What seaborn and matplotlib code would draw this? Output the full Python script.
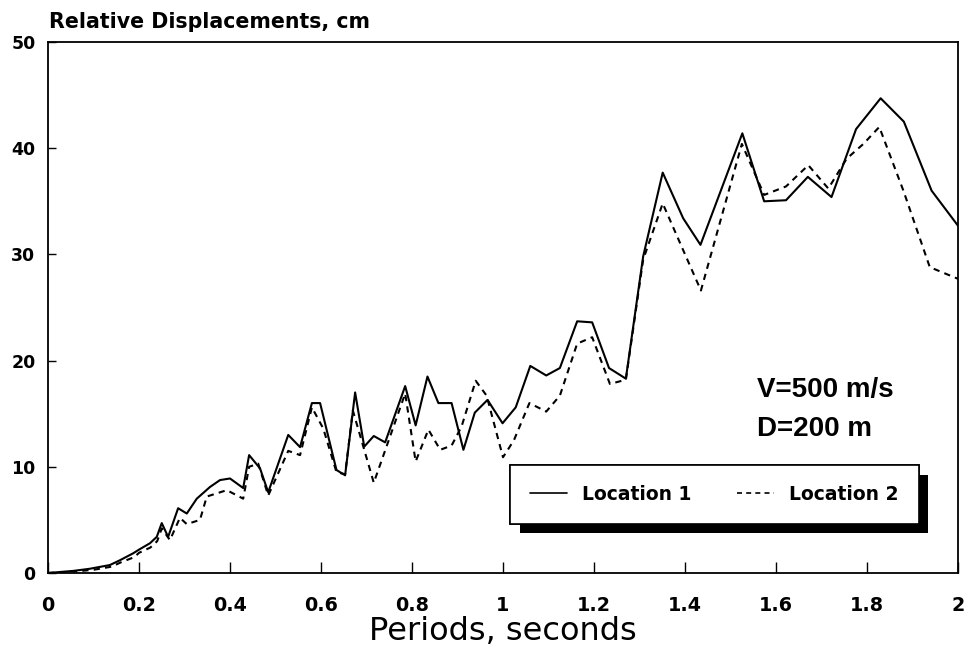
import matplotlib
matplotlib.use("Agg")
import matplotlib.pyplot as plt
import matplotlib.patheffects as pe
import seaborn as sns
import pandas as pd

# Data
loc1_x = [0, 0.056, 0.092, 0.136, 0.158, 0.187, 0.2, 0.224, 0.239, 0.25,
          0.264, 0.286, 0.305, 0.327, 0.356, 0.378, 0.4, 0.429, 0.442, 0.466,
          0.484, 0.528, 0.554, 0.58, 0.598, 0.634, 0.653, 0.675, 0.695, 0.716,
          0.741, 0.785, 0.808, 0.834, 0.858, 0.887, 0.913, 0.938, 0.966, 0.999,
          1.028, 1.06, 1.095, 1.125, 1.163, 1.196, 1.233, 1.27, 1.308, 1.351,
          1.396, 1.434, 1.526, 1.574, 1.622, 1.67, 1.722, 1.776, 1.83, 1.881,
          1.942, 2.0]
loc1_y = [0, 0.2, 0.4, 0.75, 1.2, 1.85, 2.2, 2.8, 3.4, 4.7,
          3.4, 6.1, 5.6, 7.0, 8.1, 8.75, 8.9, 8.0, 11.1, 9.85,
          7.6, 13.0, 11.85, 16.0, 16.0, 9.7, 9.2, 17.0, 11.9, 12.9,
          12.3, 17.6, 13.9, 18.5, 16.0, 16.0, 11.6, 15.1, 16.3, 14.1,
          15.6, 19.5, 18.6, 19.3, 23.7, 23.6, 19.3, 18.3, 29.8, 37.7,
          33.4, 30.9, 41.4, 35.0, 35.1, 37.3, 35.4, 41.8, 44.7, 42.5,
          36.0, 32.7]

loc2_x = [0, 0.06, 0.1, 0.14, 0.16, 0.19, 0.2, 0.225, 0.24, 0.25,
          0.268, 0.29, 0.305, 0.334, 0.349, 0.393, 0.429, 0.442, 0.462, 0.484,
          0.528, 0.554, 0.58, 0.605, 0.634, 0.653, 0.67, 0.716, 0.785, 0.808,
          0.836, 0.862, 0.887, 0.909, 0.94, 0.964, 1.0, 1.024, 1.058, 1.095,
          1.125, 1.163, 1.196, 1.235, 1.27, 1.308, 1.351, 1.396, 1.435, 1.525,
          1.574, 1.622, 1.671, 1.715, 1.755, 1.792, 1.827, 1.88, 1.938, 2.0]
loc2_y = [0, 0.15, 0.3, 0.6, 1.0, 1.5, 1.9, 2.4, 3.0, 4.2,
          3.1, 5.2, 4.6, 5.0, 7.2, 7.8, 7.0, 10.0, 10.3, 7.3,
          11.5, 11.1, 15.6, 13.6, 9.5, 9.3, 15.3, 8.5, 16.9, 10.5,
          13.5, 11.6, 12.0, 13.8, 18.1, 16.7, 10.9, 12.5, 16.0, 15.2,
          16.7, 21.6, 22.2, 17.8, 18.2, 29.5, 34.8, 30.4, 26.6, 40.4,
          35.6, 36.4, 38.4, 36.2, 39.0, 40.4, 42.0, 36.0, 28.8, 27.7]

series_names = ["Location 1", "Location 2"]
x_ticks = [0, 0.2, 0.4, 0.6, 0.8, 1, 1.2, 1.4, 1.6, 1.8, 2]
x_tick_labels = ["0", "0.2", "0.4", "0.6", "0.8", "1", "1.2", "1.4", "1.6", "1.8", "2"]
y_ticks = [0, 10, 20, 30, 40, 50]
y_label = "Relative Displacements, cm"
x_label = "Periods, seconds"
notes = ["V=500 m/s", "D=200 m"]

sns.set_style("ticks")
plt.rcParams["font.family"] = ["DejaVu Sans"]
plt.rcParams["text.color"] = "black"
plt.rcParams["axes.labelcolor"] = "black"
plt.rcParams["xtick.color"] = "black"
plt.rcParams["ytick.color"] = "black"
plt.rcParams["legend.labelcolor"] = "black"

fig = plt.figure(figsize=(9.69, 6.62), dpi=100)
ax = fig.add_axes([48 / 969, 89 / 662, 910 / 969, 531 / 662])

df1 = pd.DataFrame({"x": loc1_x, "y": loc1_y})
df2 = pd.DataFrame({"x": loc2_x, "y": loc2_y})
sns.lineplot(data=df1, x="x", y="y", ax=ax, color="black", lw=1.5,
             sort=False, estimator=None, label=series_names[0])
sns.lineplot(data=df2, x="x", y="y", ax=ax, color="black", lw=1.5,
             sort=False, estimator=None, label=series_names[1],
             linestyle=(0, (3, 2.5)))

ax.set_xlim(0, 2)
ax.set_ylim(0, 50)
ax.set_xticks(x_ticks)
ax.set_xticklabels(x_tick_labels, fontsize=13.8, fontweight="bold", color="black")
ax.set_yticks(y_ticks)
ax.set_yticklabels([str(v) for v in y_ticks], fontsize=12.5, fontweight="bold", color="black")
ax.tick_params(axis="x", direction="in", length=8, width=1, pad=16.5, colors="black")
ax.tick_params(axis="y", direction="in", length=6, width=1, pad=9, colors="black")
for s in ax.spines.values():
    s.set_visible(True)
    s.set_linewidth(1.3)
    s.set_color("black")

ax.set_xlabel(x_label, fontsize=23, labelpad=0.5, color="black")
ax.set_ylabel("")
ax.text(0.001, 1.026, y_label, transform=ax.transAxes, fontsize=14.8,
        fontweight="bold", ha="left", va="baseline", color="black")

ax.text(1.558, 17.2, notes[0], fontsize=20, fontweight="bold", va="center", ha="left",
        family=["Liberation Sans", "DejaVu Sans"], color="black")
ax.text(1.558, 13.6, notes[1], fontsize=20, fontweight="bold", va="center", ha="left",
        family=["Liberation Sans", "DejaVu Sans"], color="black")

leg = ax.legend(loc="upper left", bbox_to_anchor=(0.508, 0.203),
                ncol=2, borderaxespad=0, frameon=True,
                fancybox=False, borderpad=1.05, handlelength=2.0,
                handletextpad=0.8, columnspacing=2.4,
                prop={"size": 13.5, "weight": "bold"})
for t in leg.get_texts():
    t.set_color("black")
frame = leg.get_frame()
frame.set_edgecolor("black")
frame.set_linewidth(1.2)
frame.set_facecolor("white")
frame.set_alpha(1)
frame.set_path_effects([pe.withSimplePatchShadow(offset=(7, -7), shadow_rgbFace="black",
                                                 alpha=1.0), pe.Normal()])
for line in leg.get_lines():
    line.set_linewidth(1.2)

fig.savefig("out.png", dpi=100)
